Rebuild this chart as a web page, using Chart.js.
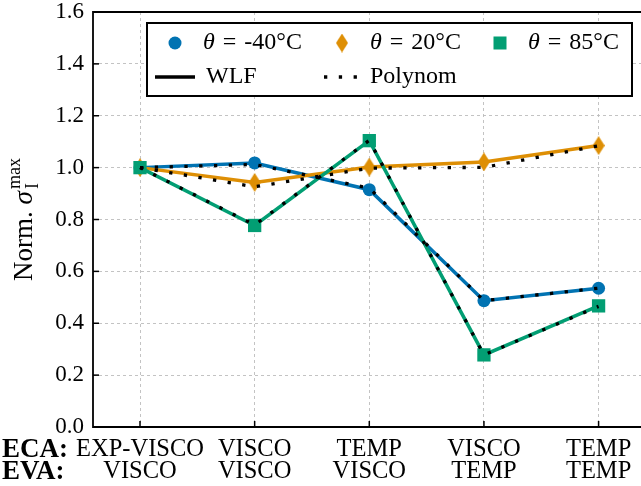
<!DOCTYPE html>
<html>
<head>
<meta charset="utf-8">
<script src="https://cdn.jsdelivr.net/npm/chart.js@4.4.1/dist/chart.umd.min.js"></script>
<style>
  html, body { margin: 0; padding: 0; background: #fff; overflow: hidden; }
  #wrap { width: 641px; height: 486px; }
</style>
</head>
<body>
<div id="wrap"><canvas id="chart" width="641" height="486"></canvas></div>
<script>
// ---- data ----
var ecaLabels = ['EXP-VISCO', 'VISCO', 'TEMP', 'VISCO', 'TEMP'];
var evaLabels = ['VISCO', 'VISCO', 'VISCO', 'TEMP', 'TEMP'];
var tempLabels = ['-40°C', '20°C', '85°C'];
var yTickValues = [0, 0.2, 0.4, 0.6, 0.8, 1.0, 1.2, 1.4, 1.6];

var wlfCold = [1.0, 1.018, 0.915, 0.487, 0.535];
var wlfRoom = [1.0, 0.943, 1.002, 1.022, 1.085];
var wlfHot  = [1.0, 0.777, 1.104, 0.278, 0.467];

var polyCold = [1.0, 1.012, 0.921, 0.487, 0.535];
var polyRoom = [1.0, 0.926, 0.998, 1.001, 1.084];
var polyHot  = [1.0, 0.779, 1.105, 0.278, 0.465];

var BLUE = '#0173b2', ORANGE = '#de8f05', GREEN = '#029e73';
var SERIF = '"Liberation Serif", "DejaVu Serif", serif';
var DOTS = [3.3, 11.5];

function toPoints(arr) {
  return arr.map(function(v, i) { return { x: i, y: v }; });
}

// thin diamond marker (matplotlib 'd')
function makeDiamond(color, w, h) {
  var c = document.createElement('canvas');
  c.width = w; c.height = h;
  var g = c.getContext('2d');
  g.fillStyle = color;
  g.beginPath();
  g.moveTo(w / 2, 0); g.lineTo(w, h / 2); g.lineTo(w / 2, h); g.lineTo(0, h / 2);
  g.closePath(); g.fill();
  return c;
}
var diamond = makeDiamond(ORANGE, 12, 19);

function wlfSet(data, color, style, radius, order) {
  return {
    label: 'WLF', data: toPoints(data), borderColor: color, backgroundColor: color,
    borderWidth: 3.5, pointStyle: style, pointRadius: radius, pointBorderWidth: 0,
    pointBackgroundColor: color, tension: 0, order: order
  };
}
function polySet(data) {
  return {
    label: 'Polynom', data: toPoints(data), borderColor: '#000', borderWidth: 3.3,
    borderDash: DOTS, borderCapStyle: 'butt', pointRadius: 0, tension: 0, order: 0
  };
}

// box + inward ticks, ECA/EVA row names, y axis title, legend
var decorations = {
  id: 'decorations',
  afterDraw: function(chart) {
    var ctx = chart.ctx, a = chart.chartArea;
    var xs = chart.scales.x, ys = chart.scales.y;
    ctx.save();
    ctx.strokeStyle = '#000';
    ctx.lineWidth = 1.8;
    ctx.beginPath();
    ctx.moveTo(a.right + 2, a.top); ctx.lineTo(a.left, a.top);
    ctx.lineTo(a.left, a.bottom); ctx.lineTo(a.right + 2, a.bottom);
    ctx.stroke();

    ctx.lineWidth = 1.5;
    yTickValues.forEach(function(v) {
      var py = ys.getPixelForValue(v);
      ctx.beginPath(); ctx.moveTo(a.left, py); ctx.lineTo(a.left + 6, py); ctx.stroke();
    });
    ecaLabels.forEach(function(_, i) {
      var px = xs.getPixelForValue(i);
      ctx.beginPath(); ctx.moveTo(px, a.bottom); ctx.lineTo(px, a.bottom - 6); ctx.stroke();
    });

    // row names under the x axis
    ctx.fillStyle = '#000';
    ctx.font = 'bold 27px ' + SERIF;
    ctx.textAlign = 'left';
    ctx.textBaseline = 'middle';
    ctx.fillText('ECA:', 2, a.bottom + 23);
    ctx.fillText('EVA:', 2, a.bottom + 45);

    // y title: Norm. sigma_I^max
    var big = '27px ' + SERIF, ital = 'italic 27px ' + SERIF, small = '18px ' + SERIF;
    ctx.font = big; var w1 = ctx.measureText('Norm. ').width;
    ctx.font = ital; var w2 = ctx.measureText('σ').width;
    ctx.font = small; var w3 = ctx.measureText('max').width;
    var total = w1 + w2 + 2 + w3;
    ctx.save();
    ctx.translate(32, (a.top + a.bottom) / 2);
    ctx.rotate(-Math.PI / 2);
    ctx.textBaseline = 'alphabetic';
    var tx = -total / 2;
    ctx.font = big; ctx.fillText('Norm. ', tx, 0); tx += w1;
    ctx.font = ital; ctx.fillText('σ', tx, 0); tx += w2 + 2;
    ctx.font = small; ctx.fillText('max', tx, -12); ctx.fillText('I', tx, 6);
    ctx.restore();

    // legend
    var lx = 147, ly = 23, lw = 485, lh = 73;
    ctx.fillStyle = '#fff';
    ctx.fillRect(lx, ly, lw, lh);
    ctx.lineWidth = 2;
    ctx.strokeStyle = '#000';
    ctx.strokeRect(lx, ly, lw, lh);

    var row1 = ly + 20, row2 = ly + 54;
    ctx.fillStyle = BLUE;
    ctx.beginPath(); ctx.arc(lx + 28, row1, 6.5, 0, Math.PI * 2); ctx.fill();
    ctx.drawImage(diamond, lx + 195 - 6, row1 - 9.5);
    ctx.fillStyle = GREEN;
    ctx.fillRect(lx + 353 - 6.5, row1 - 6.5, 13, 13);

    var textX = [lx + 56, lx + 223, lx + 381];
    ctx.fillStyle = '#000';
    ctx.textBaseline = 'middle';
    tempLabels.forEach(function(t, i) {
      var x = textX[i];
      ctx.font = 'italic 24px ' + SERIF;
      ctx.fillText('θ', x, row1);
      x += ctx.measureText('θ').width + 8;
      ctx.font = '24px ' + SERIF;
      ctx.fillText('=', x, row1);
      x += ctx.measureText('=').width + 8;
      ctx.fillText(t, x, row1);
    });

    ctx.lineWidth = 3.5;
    ctx.beginPath(); ctx.moveTo(lx + 8, row2); ctx.lineTo(lx + 48, row2); ctx.stroke();
    ctx.lineWidth = 3.3;
    ctx.setLineDash(DOTS);
    ctx.beginPath(); ctx.moveTo(lx + 177, row2); ctx.lineTo(lx + 212, row2); ctx.stroke();
    ctx.setLineDash([]);
    ctx.font = '24px ' + SERIF;
    ctx.fillText('WLF', lx + 59, row2);
    ctx.fillText('Polynom', lx + 223, row2);
    ctx.restore();
  }
};

var ctx = document.getElementById('chart').getContext('2d');
new Chart(ctx, {
  type: 'line',
  data: {
    datasets: [
      wlfSet(wlfCold, BLUE, 'circle', 6.5, 3),
      wlfSet(wlfRoom, ORANGE, diamond, 9, 2),
      wlfSet(wlfHot, GREEN, 'rect', 9.4, 1),
      polySet(polyCold),
      polySet(polyRoom),
      polySet(polyHot)
    ]
  },
  options: {
    responsive: false,
    animation: false,
    layout: { autoPadding: false, padding: { top: 12, right: 0, left: 0, bottom: 0 } },
    plugins: { legend: { display: false }, tooltip: { enabled: false } },
    scales: {
      x: {
        type: 'linear', min: -0.41, max: 4.37,
        afterFit: function(s) { s.height = 59; s.paddingLeft = 0; s.paddingRight = 0; },
        border: { display: false, dash: [3, 3] },
        grid: { color: '#bdbdbd', lineWidth: 0.9, drawTicks: false },
        ticks: {
          stepSize: 1, includeBounds: false, autoSkip: false, maxRotation: 0,
          padding: 12, color: '#000',
          font: { family: SERIF, size: 24.5, lineHeight: 0.88 },
          callback: function(v) {
            return Number.isInteger(v) && ecaLabels[v] ? [ecaLabels[v], evaLabels[v]] : '';
          }
        }
      },
      y: {
        min: 0, max: 1.6,
        afterFit: function(s) { s.width = 93; s.paddingTop = 0; s.paddingBottom = 0; },
        border: { display: false, dash: [3, 3] },
        grid: { color: '#bdbdbd', lineWidth: 0.9, drawTicks: false },
        ticks: {
          stepSize: 0.2, padding: 9, color: '#000',
          font: { family: SERIF, size: 23, lineHeight: 1 },
          callback: function(v) { return v.toFixed(1); }
        }
      }
    }
  },
  plugins: [decorations]
});
</script>
</body>
</html>
